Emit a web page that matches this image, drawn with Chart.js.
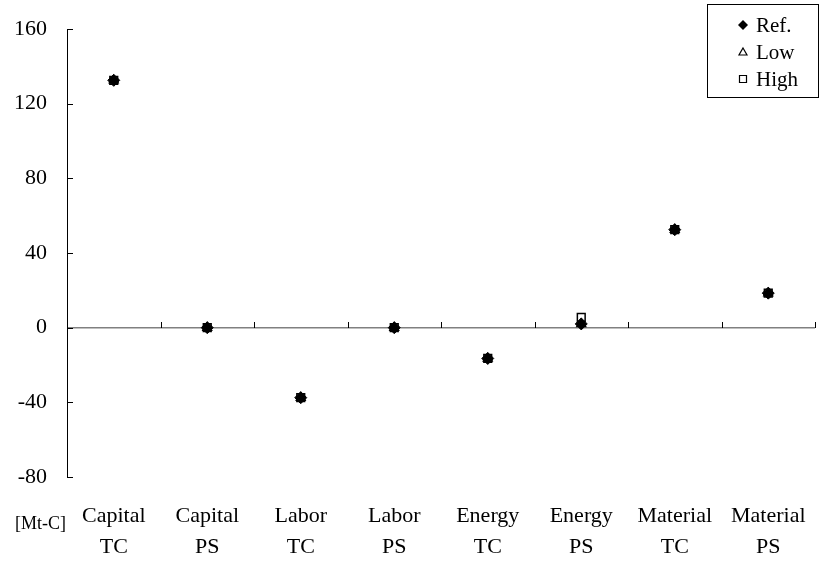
<!DOCTYPE html>
<html>
<head>
<meta charset="utf-8">
<script src="https://cdn.jsdelivr.net/npm/chart.js@4.4.1/dist/chart.umd.min.js"></script>
<style>body{margin:0;background:#fff}</style>
</head>
<body>
<canvas id="effectChart" width="822" height="567"></canvas>
<script>
// values, in Mt-C
var categories = [["Capital","TC"],["Capital","PS"],["Labor","TC"],["Labor","PS"],["Energy","TC"],["Energy","PS"],["Material","TC"],["Material","PS"]];
var refValues = [132.5, 0, -37.5, 0, -16.5, 2, 52.5, 18.5];
var lowValues = [132.5, 0, -37.5, 0, -16.5, 2, 52.5, 18.5];
var highValues = [132.5, 0, -37.5, 0, -16.5, 5.5, 52.5, 18.5];
var yTicks = [-80, -40, 0, 40, 80, 120, 160];
var seriesNames = ["Ref.", "Low", "High"];
var unitLabel = "[Mt-C]";
var serif = "'Liberation Serif', 'Times New Roman', serif";

function marker(ctx, kind, x, y) {
  ctx.beginPath();
  if (kind == 0) {
    ctx.moveTo(x, y - 5); ctx.lineTo(x + 5, y); ctx.lineTo(x, y + 5); ctx.lineTo(x - 5, y);
    ctx.closePath();
    ctx.fillStyle = "#000"; ctx.fill();
  } else if (kind == 1) {
    ctx.moveTo(x, y - 4); ctx.lineTo(x + 4, y + 3); ctx.lineTo(x - 4, y + 3);
    ctx.closePath();
    ctx.fillStyle = "#fff"; ctx.fill(); ctx.stroke();
  } else {
    ctx.rect(x - 3.5, y - 3.5, 7, 7);
    ctx.fillStyle = "#fff"; ctx.fill(); ctx.stroke();
  }
}

// zero-line ticks, inward y ticks, legend box and unit text
var decorations = {
  id: "decorations",
  afterDraw: function(chart) {
    var ctx = chart.ctx, x = chart.scales.x, y = chart.scales.y;
    var zero = Math.round(y.getPixelForValue(0));
    ctx.save();
    ctx.strokeStyle = "#000";
    ctx.lineWidth = 1;
    ctx.beginPath();
    for (var i = 1; i <= categories.length; i++) {
      var px = Math.round(x.getPixelForValue(i - 0.5)) + 0.5;
      ctx.moveTo(px, zero); ctx.lineTo(px, zero - 6);
    }
    yTicks.forEach(function(v) {
      var py = Math.round(y.getPixelForValue(v)) + 0.5;
      ctx.moveTo(y.right, py); ctx.lineTo(y.right + 6, py);
    });
    ctx.stroke();

    // legend
    ctx.fillStyle = "#fff";
    ctx.fillRect(708, 5, 110, 92);
    ctx.strokeRect(707.5, 4.5, 111, 93);
    ctx.font = "21px " + serif;
    ctx.textBaseline = "middle";
    ctx.textAlign = "left";
    seriesNames.forEach(function(name, k) {
      var ly = 25 + k * 27;
      ctx.lineWidth = 1.2;
      marker(ctx, k, 743, ly);
      ctx.fillStyle = "#000";
      ctx.fillText(name, 756, ly + 1);
    });

    ctx.font = "18px " + serif;
    ctx.fillStyle = "#000";
    ctx.fillText(unitLabel, 15, 524);
    ctx.restore();
  }
};

new Chart("effectChart", {
  type: "line",
  data: {
    labels: categories,
    datasets: [{
      label: seriesNames[0],
      data: refValues,
      showLine: false,
      pointStyle: "rectRot",
      pointRadius: 6,
      pointBackgroundColor: "#000",
      pointBorderColor: "#000",
      pointBorderWidth: 1
    }, {
      label: seriesNames[1],
      data: lowValues,
      showLine: false,
      pointStyle: "triangle",
      pointRadius: 5,
      pointBackgroundColor: "#fff",
      pointBorderColor: "#000",
      pointBorderWidth: 1.5
    }, {
      label: seriesNames[2],
      data: highValues,
      showLine: false,
      pointStyle: "rect",
      pointRadius: 5.5,
      pointBackgroundColor: "#fff",
      pointBorderColor: "#000",
      pointBorderWidth: 1.5
    }]
  },
  options: {
    responsive: false,
    animation: false,
    layout: {padding: {top: 29, right: -4, left: 0, bottom: 0}},
    plugins: {legend: {display: false}, tooltip: {enabled: false}},
    scales: {
      x: {
        offset: true,
        grid: {display: false},
        border: {display: false},
        ticks: {color: "#000", font: {family: serif, size: 22, lineHeight: 1.4}, padding: 16, maxRotation: 0, autoSkip: false},
        afterFit: function(s) { s.height = 90; }
      },
      y: {
        min: -80,
        max: 160,
        border: {color: "#000", width: 1},
        grid: {
          drawTicks: true,
          tickLength: 16,
          tickColor: "rgba(0,0,0,0)",
          color: function(c) { return c.tick && c.tick.value === 0 ? "#808080" : "rgba(0,0,0,0)"; },
          lineWidth: function(c) { return c.tick && c.tick.value === 0 ? 1.5 : 0; }
        },
        ticks: {stepSize: 40, color: "#000", font: {family: serif, size: 22}, padding: 4},
        afterFit: function(s) { s.width = 67; }
      }
    }
  },
  plugins: [decorations]
});
</script>
</body>
</html>
